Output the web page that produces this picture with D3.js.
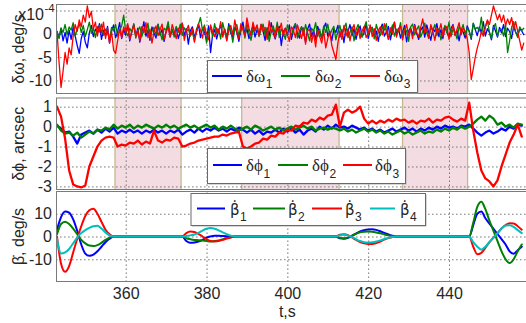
<!DOCTYPE html>
<html><head><meta charset="utf-8">
<script src="https://cdn.jsdelivr.net/npm/d3@7"></script>
<style>body{margin:0;background:#fff} svg{display:block}</style>
</head><body><svg id="c" width="526" height="323"></svg>
<script>
// ---------------- DATA ----------------
// Panel 1: angular velocity errors, units 1e-4 deg/s, sampled every 0.5 s from t = 343 s
const tStartW = 343, tStepW = 0.5;
const dOmega1 = [
 0.5,-0.8,1.2,-1.5,0.3,-2.0,0.8,-1.2,1.5,-0.5,-2.5,-4.2,-1.0,0.5,-1.8,-3.0,0.2,1.8,-0.6,1.0,
 0.2,2.2,-1.2,0.8,-0.4,1.6,-2.0,0.6,1.9,-0.8,0.4,2.4,-1.0,0.9,-0.3,1.8,-1.5,0.5,2.0,-0.6,
 1.2,-1.8,0.3,2.6,-0.5,0.8,-1.4,1.5,0.2,-0.9,2.1,-0.3,1.0,-1.6,0.6,1.8,-0.7,0.9,-0.2,1.4,
 -1.0,0.5,2.3,-0.4,1.1,-2.2,0.7,1.5,-0.6,0.3,2.0,-0.8,1.2,0.4,-1.5,1.7,-4.0,-0.2,0.9,-1.1,
 0.6,1.9,-0.5,1.0,-1.3,2.2,0.1,-0.8,1.4,0.3,-1.6,0.8,2.5,-0.2,1.1,-1.0,0.4,1.7,-0.7,0.9,
 -0.3,2.0,0.6,-1.4,1.3,-0.5,2.4,0.2,-1.1,0.9,1.6,-2.5,0.5,1.2,-0.4,1.9,-1.2,0.7,2.2,0.0,
 -0.9,1.5,0.4,-1.7,1.0,2.1,-0.6,0.8,-1.3,1.6,0.2,-0.8,1.3,2.3,-0.5,0.6,-1.5,1.0,0.3,1.8,
 -0.7,0.9,-1.9,1.2,0.5,2.0,-0.4,1.1,-1.2,0.7,1.7,-0.6,0.2,2.2,-1.0,0.8,1.4,-0.3,0.6,-1.6,
 1.0,2.1,-0.5,0.4,1.6,-1.3,0.9,2.5,-0.2,1.2,-0.9,0.3,1.8,-1.7,0.6,1.3,-0.4,2.0,0.1,-1.2,
 0.8,1.5,-0.7,1.9,0.2,-1.4,1.1,0.5,2.2,-0.6,0.9,-1.0,1.6,0.3,-0.8,1.2,2.0,-0.3,0.7,-1.5,
 1.0,0.4,-0.9,1.7,0.6,-1.2,2.3,0.9,-0.4,1.5,0.2,2.6,-0.5,1.1,0.3,-1.3,1.8,0.6,-0.7,1.4,
 0.2,2.0,-0.6,1.2,0.5,-1.0,1.6,0.3,-0.4,1.1,0.6,-0.2];
const dOmega2 = [
 0.5,-1.0,1.2,0.3,2.0,-0.2,1.5,0.8,2.4,-0.5,1.0,2.2,0.3,1.8,-0.6,0.9,2.5,0.1,1.2,-0.8,
 1.6,0.4,2.1,-0.3,1.0,0.2,-1.2,1.4,0.6,2.0,-0.5,0.8,1.7,4.0,0.5,-0.4,1.2,0.3,2.2,-0.9,
 0.7,1.5,-0.6,1.1,0.2,2.3,-1.0,0.6,1.4,-0.3,2.0,0.4,-1.3,1.2,0.8,2.6,-0.2,1.0,-0.7,1.6,
 0.3,2.1,-0.4,1.3,0.6,1.0,-0.5,0.4,-1.5,1.0,2.0,3.5,0.8,1.9,-2.0,0.5,1.4,-0.6,2.2,0.1,
 1.0,-1.1,2.4,0.5,-0.3,1.6,0.8,-1.8,1.2,2.0,-0.5,0.7,1.5,-0.9,2.3,0.2,-1.4,1.1,0.6,1.8,
 -0.6,0.9,2.1,-0.2,1.3,-1.6,0.4,1.7,0.0,2.5,-0.8,1.0,0.3,-1.2,1.9,0.7,-0.4,1.4,2.2,-0.9,
 0.6,1.5,-0.3,2.0,0.2,-1.5,1.2,0.5,2.4,-0.6,1.0,-1.0,1.7,0.3,2.1,-0.4,0.8,1.6,-1.3,0.5,
 1.8,-0.2,1.1,2.3,-0.8,0.4,1.5,-1.5,0.9,2.0,0.1,-0.7,1.3,2.6,-0.3,0.7,1.4,-1.1,2.0,0.5,
 -0.4,1.6,0.8,2.2,-1.2,0.3,1.9,-0.5,1.0,0.4,2.4,-0.9,1.2,0.6,-1.6,1.5,2.1,-0.2,0.9,1.7,
 -0.7,0.5,2.3,0.1,-1.0,1.4,0.7,2.0,-0.4,1.1,-1.3,0.6,1.8,0.2,2.5,-0.6,1.0,0.4,-1.1,1.6,
 0.8,2.0,-0.3,1.2,0.5,-0.9,2.2,1.0,1.4,0.6,3.6,-0.2,1.5,2.8,0.4,-1.0,1.3,2.2,-0.5,0.9,
 1.0,-0.5,2.0,-4.0,-1.5,1.4,2.6,0.3,-0.8,1.5,0.7,1.2];
const dOmega3 = [
 0.5,-6.0,-11.5,-8.0,-4.0,-6.5,-3.0,-4.5,-0.5,2.0,0.5,3.0,1.5,4.0,2.5,6.0,3.5,4.8,1.0,2.5,
 -0.5,1.8,0.2,2.5,-1.0,1.2,-2.0,0.5,-3.5,-4.2,-1.5,1.0,-0.8,1.5,0.2,2.2,-1.2,0.6,1.8,-0.5,
 0.8,-1.5,1.6,0.2,2.4,-0.8,1.0,-2.0,0.5,1.7,-0.4,0.9,2.1,-1.2,0.3,1.4,-0.6,2.0,0.6,-1.0,
 1.2,0.0,2.3,-1.4,0.7,1.8,-0.3,1.1,-1.8,0.4,2.2,0.8,-0.9,1.5,0.1,-1.3,1.9,0.5,-0.6,1.3,
 0.2,2.6,-0.7,1.0,-1.5,0.6,1.8,-0.2,3.0,0.4,-1.0,2.2,0.9,-0.5,3.4,1.2,-0.3,2.5,0.7,1.9,
 -0.4,2.1,0.5,1.4,-1.2,2.8,0.3,1.0,-0.9,1.7,0.6,2.3,-0.5,1.2,0.0,-1.6,1.5,0.8,-0.8,1.9,
 0.4,-1.0,1.3,-2.2,0.6,1.0,-1.8,0.2,-2.8,0.9,-0.6,-2.0,0.5,-3.0,-1.0,0.4,-2.5,-4.0,-5.5,-2.0,
 0.5,-1.2,1.8,-0.5,1.0,-1.5,0.8,2.0,-0.3,1.2,-1.0,0.6,1.6,-0.8,0.2,1.9,-0.6,1.1,-1.4,0.7,
 1.5,-0.2,2.2,0.4,-1.1,1.3,0.0,2.5,-0.7,0.9,1.7,-1.3,0.6,2.0,-0.4,1.0,-1.0,1.8,0.3,-0.6,
 1.4,3.2,0.2,1.1,-0.9,2.0,0.6,-1.4,1.2,0.4,2.2,-0.5,0.9,1.6,-1.2,0.3,1.8,-0.3,1.0,2.4,
 -0.2,1.3,0.5,-1.0,-4.0,-9.8,-7.5,-5.0,-3.0,-1.5,0.5,-0.5,1.5,3.0,2.0,4.0,6.0,4.5,3.0,4.2,
 2.5,4.0,1.8,3.2,2.0,3.5,1.0,2.6,0.5,-1.5,-3.5,-2.0];

// Panels 2 and 3: sampled every 1 s from t = 343 s
const tStartP = 343, tStepP = 1;
// attitude errors, arcsec
const dPhi1 = [
 0.05,-0.1,-0.3,-0.25,-0.5,-0.85,-0.4,-0.3,-0.2,-0.35,
 -0.15,-0.3,-0.1,-0.25,-0.05,-0.35,-0.2,-0.3,-0.15,-0.3,
 -0.2,-0.35,-0.2,-0.3,-0.15,-0.3,-0.2,-0.35,-0.2,-0.3,
 -0.15,-0.4,-0.25,-0.15,-0.3,-0.1,-0.25,-0.1,-0.2,-0.05,
 -0.2,-0.1,-0.25,-0.1,-0.2,-0.05,-0.15,-0.3,-0.15,-0.35,
 -0.2,-0.4,-0.25,-0.3,-0.15,-0.3,-0.1,-0.25,-0.1,-0.3,
 -0.15,-0.4,-0.2,-0.1,-0.25,0.0,-0.15,0.05,-0.1,0.1,
 -0.05,0.0,-0.1,0.05,-0.05,-0.15,-0.05,-0.2,-0.1,-0.25,
 -0.15,-0.3,-0.2,-0.1,-0.25,-0.15,-0.05,-0.2,-0.1,-0.25,
 -0.1,-0.2,-0.05,-0.15,0.0,-0.1,0.05,-0.05,0.0,-0.1,
 0.05,0.0,0.1,-0.1,-0.3,-0.45,-0.3,-0.2,-0.35,-0.25,
 -0.1,-0.2,0.0,-0.1,0.1,0.05];
const dPhi2 = [
 0.1,-0.2,-0.35,-0.3,-0.45,-0.3,-0.55,-0.4,-0.25,-0.35,
 -0.15,-0.2,-0.05,-0.15,0.1,-0.1,0.05,-0.05,0.1,-0.1,
 0.05,-0.05,0.1,0.0,-0.1,0.05,-0.05,0.1,-0.05,0.05,
 -0.1,0.0,0.1,-0.05,0.05,-0.1,0.0,0.1,-0.05,0.05,
 -0.15,0.0,-0.1,0.05,-0.1,-0.2,-0.1,0.0,-0.15,0.05,
 -0.05,-0.2,-0.1,0.0,-0.15,-0.05,-0.2,-0.1,0.0,-0.15,
 -0.05,0.05,-0.1,0.0,-0.2,-0.1,-0.05,-0.15,-0.05,-0.1,
 -0.2,-0.1,-0.25,-0.15,-0.3,-0.2,-0.1,-0.25,-0.15,-0.3,
 -0.2,-0.35,-0.25,-0.4,-0.3,-0.2,-0.35,-0.25,-0.4,-0.3,
 -0.2,-0.35,-0.25,-0.3,-0.15,-0.25,-0.1,-0.2,-0.05,-0.15,
 0.0,-0.1,0.0,0.15,0.35,0.5,0.3,0.55,0.4,0.1,
 0.2,0.0,0.1,-0.05,0.15,0.1];
const dPhi3 = [
 1.0,0.5,-0.6,-2.2,-2.9,-3.0,-3.05,-2.95,-2.0,-1.5,
 -1.0,-0.7,-0.55,-0.5,-0.55,-1.0,-0.9,-0.95,-0.8,-0.85,
 -0.7,-0.9,-0.75,-0.85,-0.2,-0.7,-0.8,-0.65,-0.7,-0.55,
 -0.6,-1.0,-0.95,-0.85,-0.8,-0.7,-0.65,-0.6,-0.55,-0.5,
 -0.5,-0.4,-0.45,-0.35,-0.3,-0.25,-1.0,-1.1,-1.0,-0.85,
 -0.8,-0.6,-0.65,-0.45,-0.5,-0.3,-0.35,-0.15,-0.2,0.05,
 0.0,0.2,0.15,0.35,0.25,0.45,0.35,0.55,0.6,1.1,
 0.0,0.7,0.85,0.7,0.8,1.0,0.4,0.15,0.3,0.15,
 0.3,0.2,0.35,0.25,0.4,0.3,0.35,0.2,0.3,0.15,
 0.3,0.25,0.4,0.2,0.35,0.3,0.45,0.5,0.35,0.25,
 0.4,0.3,1.2,-0.2,-1.3,-2.2,-2.6,-2.75,-3.0,-2.7,
 -2.0,-1.4,-0.8,-0.4,0.1,-0.5];
// wheel rates, deg/s
const betaDot1 = [
 3,8.5,11,10.5,7.5,2.5,-3.5,-7.5,-8.5,-8,
 -6.5,-4.5,-2.5,-1,0,0,0,0,0,0,
 0,0,0,0,0,0,0,0,0,0,
 0,0,-2,-2.8,-2.6,-2.2,-1.5,-0.5,0,0.3,
 0.3,0.2,0.1,0,0,0,0,0,0,0,
 0,0,0,0,0,0,0,0,0,0,
 0,0,0,0,0,0,0,0,0,0,
 -0.8,-1.0,-0.6,0.3,1.3,2.2,2.8,3.1,3.2,2.9,
 2.3,1.6,0.9,0.3,0,0,0,0,0,0,
 0,0,0,0,0,0,0,0,0,0,
 0,0,0,5,10,11,8,5.7,3.4,1.1,
 -1.2,-3.5,-6.5,-7.6,-6,-4.5];
const betaDot2 = [
 1,5.5,6.5,5.5,3.5,1,-1.5,-3,-4,-4.2,
 -3.8,-2.8,-1.5,-0.5,0,0,0,0,0,0,
 0,0,0,0,0,0,0,0,0,0,
 0,0,-0.8,-1.2,-1.5,-1.6,-1.8,-2.0,-2.2,-2.0,
 -1.7,-1.2,-0.7,-0.3,0,0,0,0,0,0,
 0,0,0,0,0,0,0,0,0,0,
 0,0,0,0,0,0,0,0,0,0,
 -0.6,-0.8,-0.4,0.4,1.2,1.8,2.1,2.2,2.1,1.8,
 1.4,0.9,0.5,0.2,0,0,0,0,0,0,
 0,0,0,0,0,0,0,0,0,0,
 0,0,0,6,13,15.3,12,7,2.5,-2,
 -6.5,-10,-11.7,-10,-6.5,-3.5];
const betaDot3 = [
 0,-12,-15.5,-13,-7,-1,4.5,9,11.5,12.2,
 10,6.5,3,1,0,0,0,0,0,0,
 0,0,0,0,0,0,0,0,0,0,
 0,0,1.5,2.2,2.0,1.2,0,-1.2,-2.0,-2.2,
 -2.0,-1.5,-0.9,-0.4,0,0,0,0,0,0,
 0,0,0,0,0,0,0,0,0,0,
 0,0,0,0,0,0,0,0,0,0,
 0.8,1.0,0.6,-0.4,-1.5,-2.4,-3.0,-3.3,-3.3,-2.9,
 -2.2,-1.4,-0.7,-0.2,0,0,0,0,0,0,
 0,0,0,0,0,0,0,0,0,0,
 0,0,0,-4.5,-7.8,-7.2,-5,-2.5,-0.5,1.5,
 3.5,5,5.8,5.7,4.5,3];
const betaDot4 = [
 -1,-7.5,-7,-5.5,-3,-0.5,1.5,2.8,3.8,4.5,
 4.7,3.5,1.8,0.5,0,0,0,0,0,0,
 0,0,0,0,0,0,0,0,0,0,
 0,0,0.2,0.5,0.9,1.6,2.6,3.4,3.7,3.4,
 2.7,1.8,1.0,0.4,0,0,0,0,0,0,
 0,0,0,0,0,0,0,0,0,0,
 0,0,0,0,0,0,0,0,0,0,
 0.6,0.8,0.5,-0.3,-1.2,-2.0,-2.5,-2.6,-2.5,-2.2,
 -1.7,-1.1,-0.6,-0.2,0,0,0,0,0,0,
 0,0,0,0,0,0,0,0,0,0,
 0,0,0,-2.5,-4.5,-5.8,-4.5,-2.5,-0.5,1.5,
 3.5,4.8,5.0,4.2,2.8,1.5];

const shadedIntervals = [[357.35,373.7],[388.7,412.8],[428.5,444.6]];
const xTicks = [360,380,400,420,440];
const yGrid1 = [5,0,-5,-10], yLabels1 = [0,-5,-10];
const yGrid2 = [1,0,-1,-2,-3], yLabels2 = [1,0,-1,-2,-3];
const yGrid3 = [10,0,-10], yLabels3 = [10,0,-10];

// ---------------- DRAWING ----------------
const svg = d3.select('#c');
const SANS = "'Liberation Sans', Arial, sans-serif";
const SERIF = "'Liberation Serif', 'Times New Roman', 'DejaVu Serif', serif";
const TXT = '#262626';
const BLUE='#0000ff', GREEN='#008000', RED='#ff0000', CYAN='#00bfbf';
const PINK='#f3dde2', KHAKI='#c6b88e', FRAME='#7a7a7a', GRID='#6e6e6e';
const X0 = 56, X1 = 527;
const x = d3.scaleLinear().domain([342.75, 459.3]).range([X0, X1]);

const timesW = dOmega1.map((_, i) => tStartW + i * tStepW);
const timesP = dPhi1.map((_, i) => tStartP + i * tStepP);

const panels = [
  {top:4, bottom:94, domain:[-12.9,6.4], grid:yGrid1, labels:yLabels1, shade:true, lw:1.3,
   times:timesW, series:[dOmega1,dOmega2,dOmega3], colors:[BLUE,GREEN,RED], curve:d3.curveLinear,
   title:'δω, deg/s'},
  {top:97.5, bottom:190, domain:[-3.18,1.46], grid:yGrid2, labels:yLabels2, shade:true, lw:2.3,
   times:timesP, series:[dPhi1,dPhi2,dPhi3], colors:[BLUE,GREEN,RED], curve:d3.curveLinear,
   title:'δϕ, arcsec'},
  {top:191, bottom:282, domain:[-20,20], grid:yGrid3, labels:yLabels3, shade:false, lw:2,
   times:timesP, series:[betaDot1,betaDot2,betaDot3,betaDot4], colors:[BLUE,GREEN,RED,CYAN], curve:d3.curveMonotoneX,
   title:'β\u0307, deg/s'}
];

const defs = svg.append('defs');
panels.forEach((p, pi) => {
  const y = d3.scaleLinear().domain(p.domain).range([p.bottom, p.top]);
  const h = p.bottom - p.top;
  const g = svg.append('g');
  const clipId = 'clip' + pi;
  defs.append('clipPath').attr('id', clipId).append('rect')
    .attr('x', X0).attr('y', p.top).attr('width', X1 - X0).attr('height', h);

  if (p.shade) {
    shadedIntervals.forEach(([a, b]) => {
      g.append('rect').attr('x', x(a)).attr('y', p.top).attr('width', x(b) - x(a)).attr('height', h).attr('fill', PINK);
      [a, b].forEach(v => g.append('line').attr('x1', x(v)).attr('x2', x(v)).attr('y1', p.top).attr('y2', p.bottom)
        .attr('stroke', KHAKI).attr('stroke-width', 1.3));
    });
  }
  // vertical grid via axis
  const gx = g.append('g').attr('transform', `translate(0,${p.bottom})`)
    .call(d3.axisBottom(x).tickValues(xTicks).tickSize(-h).tickFormat(''));
  gx.select('.domain').remove();
  gx.selectAll('line').attr('stroke', GRID).attr('stroke-dasharray', '1.6,2.4').attr('stroke-width', 0.9);
  // horizontal grid via axis
  const gy = g.append('g').attr('transform', `translate(${X0},0)`)
    .call(d3.axisLeft(y).tickValues(p.grid).tickSize(-(X1 - X0)).tickFormat(''));
  gy.select('.domain').remove();
  gy.selectAll('line').attr('stroke', GRID).attr('stroke-dasharray', '1.6,2.4').attr('stroke-width', 0.9);

  // data lines
  const lineGen = d3.line().x((d, i) => x(p.times[i])).y(d => y(d)).curve(p.curve);
  p.series.forEach((s, si) => {
    g.append('path').attr('clip-path', `url(#${clipId})`).attr('d', lineGen(s))
      .attr('fill', 'none').attr('stroke', p.colors[si]).attr('stroke-width', p.lw)
      .attr('stroke-linejoin', 'round').attr('stroke-linecap', 'round');
  });

  // frame
  g.append('rect').attr('x', X0 + 0.5).attr('y', p.top + 0.5).attr('width', X1 - X0).attr('height', h - 1)
    .attr('fill', 'none').attr('stroke', FRAME).attr('stroke-width', 1);

  // y tick labels
  const ay = g.append('g').attr('transform', `translate(${X0},0)`)
    .call(d3.axisLeft(y).tickValues(p.labels).tickSize(0).tickPadding(4).tickFormat(d => String(d)));
  ay.select('.domain').remove();
  ay.selectAll('text').attr('font-family', SANS).attr('font-size', 16).attr('fill', TXT);

  // y title
  g.append('text').attr('transform', `translate(24,${(p.top + p.bottom) / 2}) rotate(-90)`)
    .attr('text-anchor', 'middle').attr('font-family', SANS).attr('font-size', 16).attr('fill', TXT)
    .text(p.title);

  if (pi === 2) {
    const ax = g.append('g').attr('transform', `translate(0,${p.bottom})`)
      .call(d3.axisBottom(x).tickValues(xTicks).tickSize(0).tickPadding(5.5));
    ax.select('.domain').remove();
    ax.selectAll('text').attr('font-family', SANS).attr('font-size', 16).attr('fill', TXT);
    g.append('text').attr('x', x(400)).attr('y', 317).attr('text-anchor', 'middle')
      .attr('font-family', SANS).attr('font-size', 16).attr('fill', TXT).text('t,s');
  }
});

// exponent label for panel 1
svg.append('text').attr('x', 44).attr('y', 20).attr('text-anchor', 'end')
  .attr('font-family', SANS).attr('font-size', 16).attr('fill', TXT).text('x10');
svg.append('text').attr('x', 44.5).attr('y', 12).attr('font-family', SANS).attr('font-size', 11.5)
  .attr('fill', TXT).text('-4');

// legends
function legend(box, items, lineY, base, subBase, mainFont, mainSize) {
  const g = svg.append('g');
  g.append('rect').attr('x', box.x + 1.5).attr('y', box.y + 1.5).attr('width', box.w).attr('height', box.h)
    .attr('fill', '#b0b0b0');
  g.append('rect').attr('x', box.x + 0.5).attr('y', box.y + 0.5).attr('width', box.w).attr('height', box.h)
    .attr('fill', '#fff').attr('stroke', '#6a6a6a').attr('stroke-width', 1);
  items.forEach(it => {
    g.append('line').attr('x1', it.x1).attr('x2', it.x2).attr('y1', lineY).attr('y2', lineY)
      .attr('stroke', it.color).attr('stroke-width', 2);
    const t = g.append('text').attr('x', it.tx).attr('y', base).attr('font-family', mainFont)
      .attr('font-size', mainSize).attr('fill', TXT).text(it.main);
    const len = t.node().getComputedTextLength();
    g.append('text').attr('x', it.tx + len + 0.5).attr('y', subBase).attr('font-family', SANS)
      .attr('font-size', 12).attr('fill', TXT).text(it.sub);
  });
}
legend({x:207, y:60, w:210, h:32}, [
  {color:BLUE, x1:212, x2:242, tx:246, main:'δω', sub:'1'},
  {color:GREEN, x1:281, x2:310, tx:315, main:'δω', sub:'2'},
  {color:RED, x1:350, x2:380, tx:384, main:'δω', sub:'3'}], 76, 81.5, 88, SERIF, 17);
legend({x:207, y:148, w:198, h:35}, [
  {color:BLUE, x1:213, x2:242, tx:246, main:'δϕ', sub:'1'},
  {color:GREEN, x1:278, x2:308, tx:312, main:'δϕ', sub:'2'},
  {color:RED, x1:343, x2:372, tx:375, main:'δϕ', sub:'3'}], 165, 171, 178, SERIF, 17);
legend({x:190.5, y:193, w:234.5, h:32}, [
  {color:BLUE, x1:197, x2:225, tx:230, main:'β\u0307', sub:'1'},
  {color:GREEN, x1:253, x2:285, tx:288, main:'β\u0307', sub:'2'},
  {color:RED, x1:312, x2:342, tx:345, main:'β\u0307', sub:'3'},
  {color:CYAN, x1:370, x2:395, tx:400, main:'β\u0307', sub:'4'}], 208.5, 215, 221, "'DejaVu Sans', sans-serif", 15);
</script>
</body></html>
